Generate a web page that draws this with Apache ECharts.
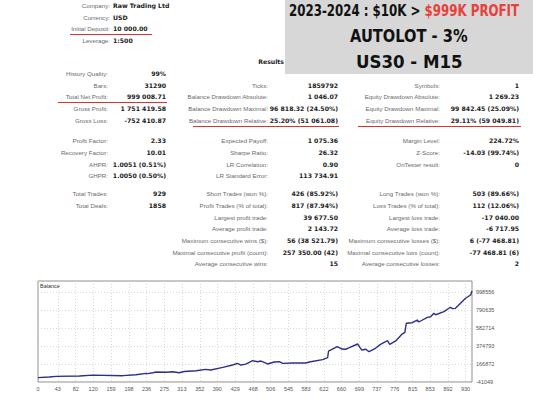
<!DOCTYPE html>
<html>
<head>
<meta charset="utf-8">
<script src="https://cdn.jsdelivr.net/npm/echarts@6/dist/echarts.min.js"></script>
<style>
  body { margin: 0; width: 533px; height: 400px; background: #fff; overflow: hidden; position: relative; }
  .t { position: absolute; white-space: nowrap; line-height: 8px; height: 8px; }
  .lab { font-family: 'Liberation Sans', Arial, sans-serif; font-size: 6.2px; color: #6a6a6a; }
  .val { font-family: 'DejaVu Sans', sans-serif; font-size: 6.2px; font-weight: bold; color: #222; }
  .red { position: absolute; height: 1px; background: #d9342c; }
  #head { position: absolute; left: 285px; top: 0; width: 248px; height: 74px; background: #d7d7d7; overflow: hidden; }
  .hl { position: absolute; left: 0; width: 600px; text-align: left; font-family: 'DejaVu Sans', sans-serif; font-weight: bold; color: #111; white-space: nowrap; }
  .hl span { display: inline-block; transform-origin: 0 0; }
  #chart { position: absolute; left: 0; top: 270px; width: 533px; height: 130px; }
</style>
</head>
<body>
<div id="head"></div>
<div id="chart"></div>
<script>
// account block
var accountRows = [
  ['Company:', 'Raw Trading Ltd'],
  ['Currency:', 'USD'],
  ['Initial Deposit:', '10 000.00'],
  ['Leverage:', '1:500']
];
var accountY = [6, 18, 29, 41];

// results table, one row index per line
var rowsY = [74, 86, 97, 109, 121, 141, 153, 165, 176, 194, 206, 218, 229, 241, 253, 264];
var col1 = [
  ['History Quality:', '99%'], ['Bars:', '31290'], ['Total Net Profit:', '999 008.71'],
  ['Gross Profit:', '1 751 419.58'], ['Gross Loss:', '-752 410.87'],
  ['Profit Factor:', '2.33'], ['Recovery Factor:', '10.01'], ['AHPR:', '1.0051 (0.51%)'], ['GHPR:', '1.0050 (0.50%)'],
  ['Total Trades:', '929'], ['Total Deals:', '1858']
];
var col2 = [
  null, ['Ticks:', '1859792'], ['Balance Drawdown Absolute:', '1 046.07'],
  ['Balance Drawdown Maximal:', '96 818.32 (24.50%)'], ['Balance Drawdown Relative:', '25.20% (51 061.08)'],
  ['Expected Payoff:', '1 075.36'], ['Sharpe Ratio:', '26.32'], ['LR Correlation:', '0.90'], ['LR Standard Error:', '113 734.91'],
  ['Short Trades (won %):', '426 (85.92%)'], ['Profit Trades (% of total):', '817 (87.94%)'],
  ['Largest profit trade:', '39 677.50'], ['Average profit trade:', '2 143.72'],
  ['Maximum consecutive wins ($):', '56 (38 521.79)'], ['Maximal consecutive profit (count):', '257 350.00 (42)'],
  ['Average consecutive wins:', '15']
];
var col3 = [
  null, ['Symbols:', '1'], ['Equity Drawdown Absolute:', '1 269.23'],
  ['Equity Drawdown Maximal:', '99 842.45 (25.09%)'], ['Equity Drawdown Relative:', '29.11% (59 049.81)'],
  ['Margin Level:', '224.72%'], ['Z-Score:', '-14.03 (99.74%)'], ['OnTester result:', '0'], null,
  ['Long Trades (won %):', '503 (89.66%)'], ['Loss Trades (% of total):', '112 (12.06%)'],
  ['Largest loss trade:', '-17 040.00'], ['Average loss trade:', '-6 717.95'],
  ['Maximum consecutive losses ($):', '6 (-77 468.81)'], ['Maximal consecutive loss (count):', '-77 468.81 (6)'],
  ['Average consecutive losses:', '2']
];
var headLines = ['2023-2024 : $10K > ', '$999K PROFIT', 'AUTOLOT - 3%', 'US30 - M15'];

// balance chart
var xTicks = [0, 43, 82, 120, 159, 198, 236, 275, 313, 352, 390, 429, 468, 506, 545, 583, 622, 660, 699, 737, 776, 815, 853, 892, 930];
var yTicks = [-41049, 166872, 374793, 582714, 790635, 998556];
var tradeNo = [0, 24, 40, 90, 119, 185, 213, 235, 239, 250, 257, 279, 293, 307, 318, 344, 365, 376, 402, 423,
  434, 441, 452, 467, 478, 485, 492, 499, 514, 525, 532, 554, 582, 593, 619, 630, 632, 651, 661, 669,
  676, 695, 704, 713, 720, 734, 745, 756, 760, 765, 778, 792, 798, 801, 814, 825, 828, 847, 854, 861,
  865, 883, 897, 902, 908, 930, 941, 944];
var balance = [10000, 16000, 24000, 28000, 38000, 32000, 43000, 59000, 55000, 66000, 74000, 71000, 78000, 66000, 80000, 89000, 105000, 97000, 128000, 155000,
  175000, 155000, 166000, 205000, 193000, 201000, 186000, 167000, 190000, 193000, 174000, 178000, 178000, 193000, 217000, 240000, 317000, 367000, 340000, 337000,
  352000, 398000, 329000, 337000, 309000, 348000, 394000, 424000, 436000, 394000, 433000, 513000, 533000, 637000, 644000, 675000, 652000, 706000, 713000, 752000,
  736000, 771000, 822000, 806000, 810000, 926000, 964000, 1009008];

function put(cls, text, y, x, align) {
  var d = document.createElement('div');
  d.className = 't ' + cls;
  d.textContent = text;
  d.style.top = (y - 4) + 'px';
  if (align === 'right') d.style.right = (533 - x) + 'px';
  else d.style.left = x + 'px';
  document.body.appendChild(d);
}
function line(x1, x2, y) {
  var d = document.createElement('div');
  d.className = 'red';
  d.style.left = x1 + 'px';
  d.style.width = (x2 - x1) + 'px';
  d.style.top = y + 'px';
  document.body.appendChild(d);
}

accountRows.forEach(function (r, i) {
  put('lab', r[0], accountY[i], 110, 'right');
  put('val', r[1], accountY[i], 113, 'left');
});

put('val', 'Results', 62, 284, 'right');

[[col1, 108, 166], [col2, 268, 338], [col3, 440, 519]].forEach(function (c) {
  c[0].forEach(function (r, i) {
    if (!r) return;
    put('lab', r[0], rowsY[i], c[1], 'right');
    put('val', r[1], rowsY[i], c[2], 'right');
  });
});

line(70, 152, 34);
line(58, 167, 102);
line(193, 339, 126);
line(358, 521, 126);

// headline box (left / width of each line)
var head = document.getElementById('head');
var hs = [
  { top: 3, size: 15, x: 4, w: 230, html: '<span>' + headLines[0] + '<b style="color:#e8403a">' + headLines[1] + '</b></span>' },
  { top: 27, size: 17, x: 65, w: 118, html: '<span>' + headLines[2] + '</span>' },
  { top: 52, size: 18, x: 71, w: 107, html: '<span>' + headLines[3] + '</span>' }
];
hs.forEach(function (h) {
  var d = document.createElement('div');
  d.className = 'hl';
  d.style.top = h.top + 'px';
  d.style.left = h.x + 'px';
  d.style.fontSize = h.size + 'px';
  d.style.lineHeight = (h.size + 2) + 'px';
  d.innerHTML = h.html;
  head.appendChild(d);
  var s = d.firstChild;
  s.style.transform = 'scaleX(' + (h.w / s.offsetWidth) + ')';
});

var myChart = echarts.init(document.getElementById('chart'), null, { renderer: 'svg' });
var tickFont = { fontSize: 5.5, color: '#555', fontFamily: 'Liberation Sans', formatter: function (v) { return String(v); } };
var gridLine = { show: true, lineStyle: { color: '#cfcfcf', type: [1, 2], width: 0.8 } };
var option = {
  animation: false,
  title: {
    text: 'Balance', left: 40, top: 13, padding: 0,
    textStyle: { fontSize: 5.5, fontWeight: 'normal', color: '#333', fontFamily: 'Liberation Sans' }
  },
  grid: {
    left: 38, top: 11, width: 434, height: 101,
    show: true, borderColor: '#8f8f8f', borderWidth: 1, backgroundColor: '#fff',
    containLabel: false, outerBoundsMode: 'none'
  },
  xAxis: {
    type: 'value', min: 0, max: 944,
    axisLine: { show: false },
    axisTick: { show: false, customValues: xTicks },
    axisLabel: Object.assign({ customValues: xTicks, margin: 4 }, tickFont),
    splitLine: gridLine
  },
  yAxis: {
    type: 'value', position: 'right', min: -41049, max: 1125600,
    axisLine: { show: false },
    axisTick: { show: false, customValues: yTicks },
    axisLabel: Object.assign({ customValues: yTicks, margin: 4 }, tickFont),
    splitLine: gridLine
  },
  series: [
    {
      name: 'Balance',
      type: 'line',
      data: tradeNo.map(function (t, i) { return [t, balance[i]]; }),
      showSymbol: false,
      lineStyle: { color: '#2f2f88', width: 1.4 }
    }
  ]
};
myChart.setOption(option);
</script>
</body>
</html>
